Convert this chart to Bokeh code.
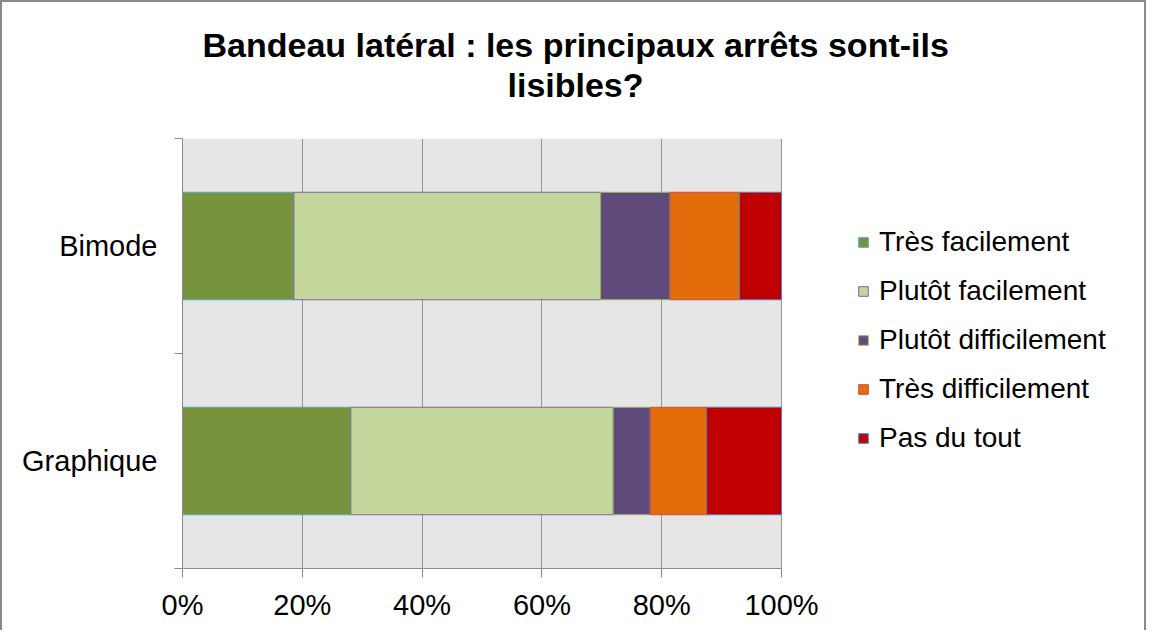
from bokeh.plotting import figure
from bokeh.models import (ColumnDataSource, Range1d, FixedTicker, PrintfTickFormatter,
                          Legend, LegendItem, Title, InlineStyleSheet, BoxAnnotation)
from bokeh.embed import file_html
from bokeh.resources import INLINE

# ---------------- data ----------------
categories = ["Graphique", "Bimode"]          # bottom to top
series = ["Très facilement", "Plutôt facilement", "Plutôt difficilement",
          "Très difficilement", "Pas du tout"]
tres_facilement = [28.1, 18.6]
plutot_facilement = [43.8, 51.2]
plutot_difficilement = [6.2, 11.6]
tres_difficilement = [9.4, 11.6]
pas_du_tout = [12.5, 7.0]
x_ticks = [0, 20, 40, 60, 80, 100]
title_lines = ["Bandeau latéral : les principaux arrêts sont-ils", "lisibles?"]

fill_colors = ["#77933C", "#C3D69B", "#604A7B", "#E46C0A", "#C00000"]
line_colors = ["#4BACC6", "#8064A2", "#9BBB59", "#C0504D", "#4F81BD"]

FONT = "Liberation Sans"

# layout (pixels)
W, H = 1146, 630
LEFT, TOP, BOTTOM = 180, 136, 64
PLOT_W = 599                      # width of the 0-100 % plot area
x_end = 100 * (W - LEFT) / PLOT_W  # frame extends to the right to host the legend

ypos = [i + 0.5 for i in range(len(categories))]
source = ColumnDataSource(dict(
    y=ypos,
    **{s: v for s, v in zip(series, [tres_facilement, plutot_facilement,
                                     plutot_difficilement, tres_difficilement,
                                     pas_du_tout])}
))

p = figure(width=W, height=H, output_backend="svg", toolbar_location=None,
           x_range=Range1d(0, x_end), y_range=Range1d(0, len(categories)),
           min_border_left=LEFT, min_border_right=0, min_border_top=TOP,
           min_border_bottom=BOTTOM)
p.stylesheets = [InlineStyleSheet(css=":host { border-left: 2px solid #8a8a8a; "
                                      "border-top: 2px solid #8a8a8a; "
                                      "border-right: 2px solid #8a8a8a; }")]
p.background_fill_color = "white"
p.border_fill_color = "white"
p.outline_line_color = None

# grey plot area 0-100 %
p.add_layout(BoxAnnotation(left=x_ticks[0], right=x_ticks[-1], fill_color="#E6E6E6",
                           fill_alpha=1, line_color=None, level="image"))

renderers = p.hbar_stack(series, y="y", height=0.5, source=source,
                         fill_color=fill_colors, line_color=line_colors, line_width=1)

# x axis
p.xaxis.ticker = FixedTicker(ticks=x_ticks)
p.xaxis.bounds = (x_ticks[0], x_ticks[-1])
p.xaxis.formatter = PrintfTickFormatter(format="%d%%")
p.xaxis.axis_line_color = "#8a8a8a"
p.xaxis.major_tick_line_color = "#8a8a8a"
p.xaxis.major_tick_out = 9
p.xaxis.major_tick_in = 0
p.xaxis.minor_tick_line_color = None
p.xaxis.major_label_text_font = FONT
p.xaxis.major_label_text_font_size = "29px"
p.xaxis.major_label_text_color = "black"
p.xaxis.major_label_standoff = 11

# y axis
p.yaxis.ticker = FixedTicker(ticks=ypos, minor_ticks=list(range(len(categories) + 1)))
p.yaxis.major_label_overrides = {y: c for y, c in zip(ypos, categories)}
p.yaxis.axis_line_color = "#8a8a8a"
p.yaxis.major_tick_line_color = None
p.yaxis.major_tick_out = 0
p.yaxis.major_tick_in = 0
p.yaxis.minor_tick_line_color = "#8a8a8a"
p.yaxis.minor_tick_out = 8
p.yaxis.minor_tick_in = 0
p.yaxis.major_label_text_font = FONT
p.yaxis.major_label_text_font_size = "29px"
p.yaxis.major_label_text_color = "black"
p.yaxis.major_label_standoff = 17

p.xgrid.ticker = FixedTicker(ticks=x_ticks)
p.xgrid.grid_line_color = "#969696"
p.ygrid.grid_line_color = None

legend = Legend(items=[LegendItem(label=s, renderers=[r]) for s, r in zip(series, renderers)],
                location=(675, 106), orientation="vertical",
                label_text_font=FONT, label_text_font_size="28px",
                label_text_color="black", glyph_width=12, glyph_height=12,
                label_height=48, label_standoff=10, spacing=1,
                padding=0, margin=0, border_line_color=None,
                background_fill_alpha=0)
p.add_layout(legend, "center")

# title: spacer closest to the frame, then line 2, then line 1
p.add_layout(Title(text=" ", text_font_size="10px", standoff=22), "above")
p.add_layout(Title(text=title_lines[1], align="left", offset=325, standoff=0,
                   text_font=FONT, text_font_style="bold", text_font_size="34px",
                   text_color="black"), "above")
p.add_layout(Title(text=title_lines[0], align="left", offset=20, standoff=0,
                   text_font=FONT, text_font_style="bold", text_font_size="34px",
                   text_color="black"), "above")

open("out.html", "w").write(file_html(p, INLINE))
